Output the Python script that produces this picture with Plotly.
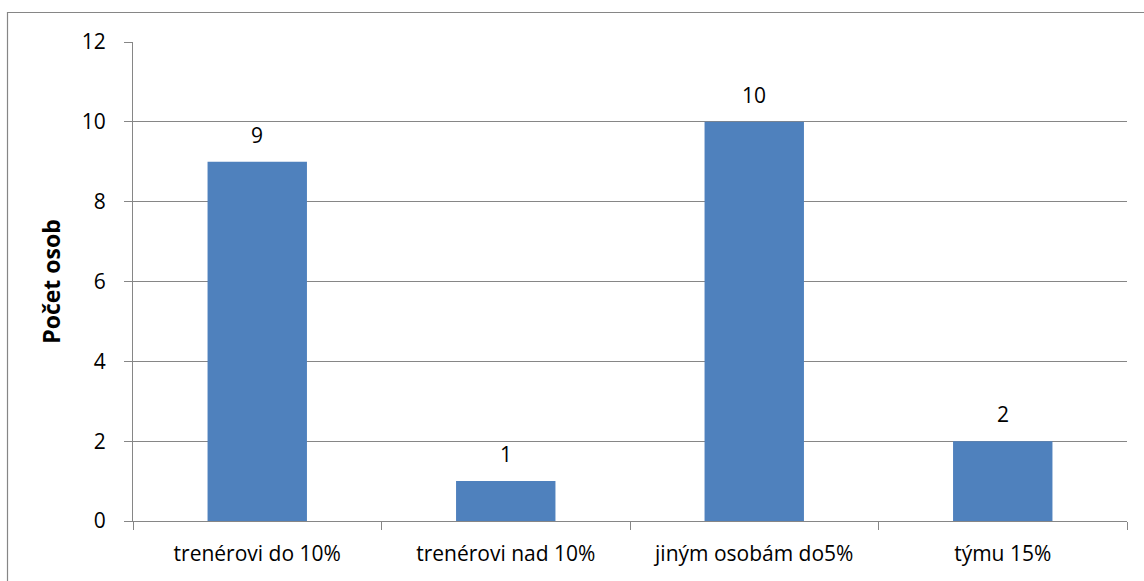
import plotly.graph_objects as go

categories = ["trenérovi do 10%", "trenérovi nad 10%", "jiným osobám do5%", "týmu 15%"]
values = [9, 1, 10, 2]
y_title = "Počet osob"
y_ticks = [0, 2, 4, 6, 8, 10, 12]

W, H = 1144, 581
ml, mr, mt, mb = 133, 17, 42, 60
pw, ph = W - ml - mr, H - mt - mb

font = dict(family="Open Sans, Noto Sans, sans-serif", size=21, color="#000000")
gray = "#868686"

fig = go.Figure(go.Bar(x=categories, y=values, marker=dict(color="#4F81BD", line=dict(width=0)),
                       width=0.4, hoverinfo="skip"))

for c, v in zip(categories, values):
    fig.add_annotation(x=c, y=v, text=str(v), showarrow=False, yanchor="bottom",
                       yshift=11, font=font)

# outer chart border (clipped at right/bottom as in the reference)
fig.add_shape(type="rect", xref="paper", yref="paper",
              x0=(7.5 - ml) / pw, x1=(W + 20 - ml) / pw,
              y0=-(mb + 20) / ph, y1=1 + (mt - 12.5) / ph,
              line=dict(color=gray, width=1.2), fillcolor="rgba(0,0,0,0)", layer="below")

fig.update_layout(
    width=W, height=H,
    margin=dict(l=ml, r=mr, t=mt, b=mb, autoexpand=False),
    paper_bgcolor="white", plot_bgcolor="white",
    font=font, showlegend=False,
    xaxis=dict(type="category", tickson="boundaries", ticks="outside", ticklen=8,
               tickcolor=gray, tickwidth=1.2, showline=True, linecolor=gray, linewidth=1.2,
               showgrid=False, tickfont=font, ticklabelstandoff=14,
               range=[-0.5, len(categories) - 0.5]),
    yaxis=dict(range=[0, 12], tickvals=y_ticks, ticks="outside", ticklen=8, tickcolor=gray,
               tickwidth=1.2, showline=True, linecolor=gray, linewidth=1.2,
               showgrid=True, gridcolor=gray, gridwidth=1.2, zeroline=False,
               tickfont=font, ticklabelstandoff=14,
               title=dict(text="<b>" + y_title + "</b>", font=dict(family=font["family"], size=23, color="#000"),
                          standoff=14)),
)

fig.write_html("out.html", config={"displayModeBar": False},
               post_script="document.body.style.margin='0';")
